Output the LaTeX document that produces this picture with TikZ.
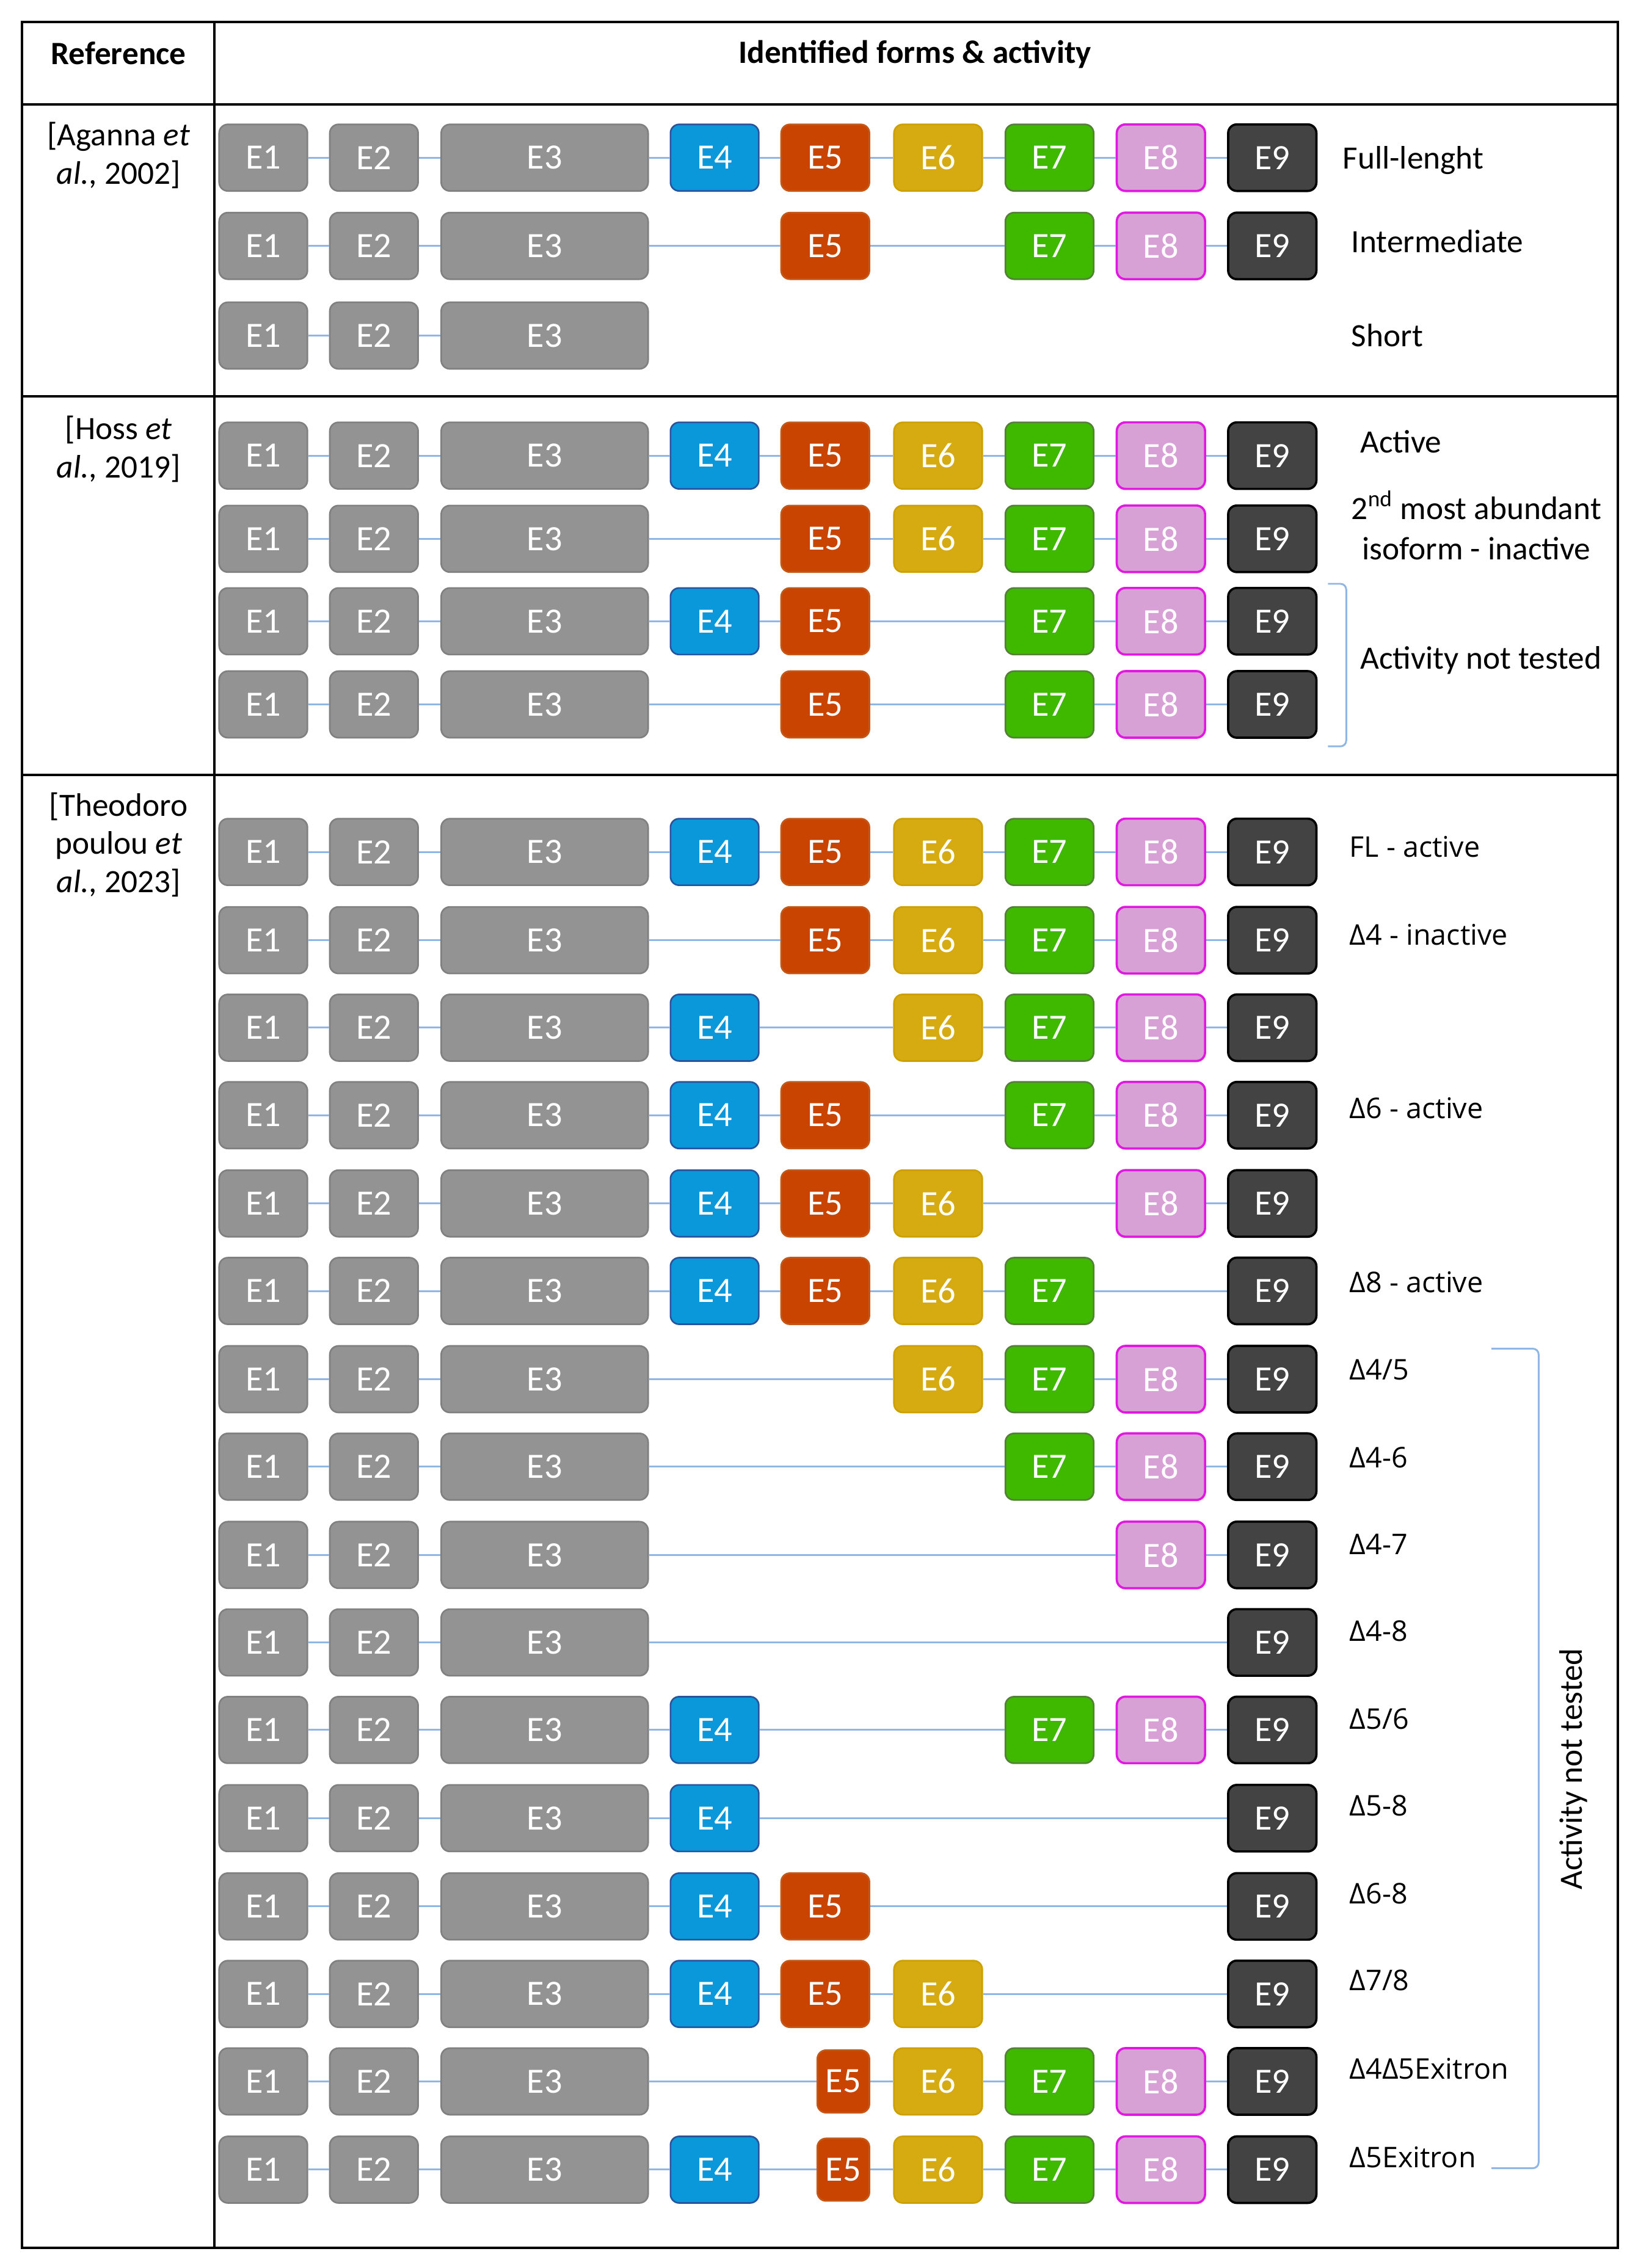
\documentclass[tikz,border=0pt]{standalone}
\usepackage{fontspec}
\setmainfont{Carlito}
\newfontfamily\isofont{Open Sans}

\definecolor{exgray}{RGB}{147,147,147}
\definecolor{exgrayline}{RGB}{128,128,128}
\definecolor{exblue}{RGB}{11,152,219}
\definecolor{exblueline}{RGB}{40,84,158}
\definecolor{exred}{RGB}{200,68,0}
\definecolor{exredline}{RGB}{196,88,24}
\definecolor{exgold}{RGB}{214,171,18}
\definecolor{exgoldline}{RGB}{204,160,0}
\definecolor{exgreen}{RGB}{62,185,0}
\definecolor{exgreenline}{RGB}{84,128,56}
\definecolor{expink}{RGB}{216,161,214}
\definecolor{expinkline}{RGB}{224,24,224}
\definecolor{exdark}{RGB}{67,67,67}
\definecolor{intronblue}{RGB}{143,182,228}

\tikzset{
  gridline/.style={line width=1.2pt, black},
  exon/.style={rounded corners=0.15cm, minimum width=1.525cm, minimum height=1.15cm,
    inner sep=0pt, text=white, font=\fontsize{17.5}{19}\selectfont, line width=0.8pt},
  ex1/.style={exon, fill=exgray, draw=exgrayline},
  ex2/.style={ex1},
  ex3/.style={ex1, minimum width=3.575cm},
  ex4/.style={exon, fill=exblue, draw=exblueline},
  ex5/.style={exon, fill=exred, draw=exredline},
  ex6/.style={exon, fill=exgold, draw=exgoldline},
  ex7/.style={exon, fill=exgreen, draw=exgreenline},
  ex8/.style={exon, fill=expink, draw=expinkline, line width=1.1pt},
  ex9/.style={exon, fill=exdark, draw=black, line width=1.1pt},
  ex10/.style={ex5, minimum width=0.9cm, minimum height=1.08cm},
  intron/.style={draw=intronblue, line width=0.9pt},
  lab/.style={font=\fontsize{16}{19.8}\selectfont, inner sep=0pt, text height=0.75em, text depth=0.25em},
  reflab/.style={font=\fontsize{16}{18.8}\selectfont, align=center, inner sep=0pt},
  isolab/.style={font=\isofont\fontsize{14}{16}\selectfont, anchor=west, inner sep=0pt,
    text height=0.75em, text depth=0.25em},
  bracket/.style={draw=intronblue, line width=0.9pt, rounded corners=1mm}
}

\begin{document}
\begin{tikzpicture}[x=0.025cm, y=-0.025cm]
\useasboundingbox (0,0) rectangle (1132,1568);

% table
\draw[gridline] (15.2,15) rectangle (1118.5,1554);
\draw[gridline] (148,15) -- (148,1554);
\foreach \h in {72,274,535.6}
  \draw[gridline] (15.2,\h) -- (1118.5,\h);

\node[font=\fontsize{16}{18}\selectfont\bfseries] (hdrref) at (82,37) {Reference};
\node[font=\fontsize{16}{18}\selectfont\bfseries] (hdrforms) at (632.5,37.5) {Identified forms \& activity};

\node[reflab] (refA) at (82,107.3) {[Aganna \textit{et}\\\textit{al.}, 2002]};
\node[reflab] (refH) at (82,310.4) {[Hoss \textit{et}\\\textit{al.}, 2019]};
\node[reflab] (refT) at (82,584) {[Theodoro\\poulou \textit{et}\\\textit{al.}, 2023]};

% isoforms: row y / exons (10 = short E5)
\foreach \y/\exons [count=\r] in {
  109/{1,2,3,4,5,6,7,8,9},
  170/{1,2,3,5,7,8,9},
  232/{1,2,3},
  315/{1,2,3,4,5,6,7,8,9},
  372.5/{1,2,3,5,6,7,8,9},
  429.5/{1,2,3,4,5,7,8,9},
  487/{1,2,3,5,7,8,9},
  589/{1,2,3,4,5,6,7,8,9},
  650/{1,2,3,5,6,7,8,9},
  710.5/{1,2,3,4,6,7,8,9},
  771/{1,2,3,4,5,7,8,9},
  832/{1,2,3,4,5,6,8,9},
  892.5/{1,2,3,4,5,6,7,9},
  953.5/{1,2,3,6,7,8,9},
  1014/{1,2,3,7,8,9},
  1075/{1,2,3,8,9},
  1135.5/{1,2,3,9},
  1196/{1,2,3,4,7,8,9},
  1257/{1,2,3,4,9},
  1318/{1,2,3,4,5,9},
  1378.5/{1,2,3,4,5,6,9},
  1439/{1,2,3,10,6,7,8,9},
  1500/{1,2,3,4,10,6,7,8,9}}{
  \foreach \e [remember=\e as \p (initially 0)] in \exons {
    \pgfmathsetmacro{\xx}{{0,182,258.5,376.5,494,570.5,648.5,725.5,802.5,879.5,583}[\e]}
    \node[ex\e] (r\r-\e) at (\xx,\y) {E\ifnum\e=10 5\else\e\fi};
    \ifnum\p>0 \draw[intron] (r\r-\p) -- (r\r-\e); \fi
  }
}

% activity labels
\node[lab, anchor=west] (labFL) at (928,113) {Full-lenght};
\node[lab, anchor=west] (labInt) at (934,171) {Intermediate};
\node[lab, anchor=west] (labShort) at (934,236) {Short};
\node[lab, anchor=west] (labAct) at (940,309.5) {Active};
\node[reflab, font=\fontsize{16}{19.8}\selectfont] (labSec) at (1020.6,363) {2\textsuperscript{nd} most abundant\\isoform - inactive};
\node[lab, anchor=west] (labNT) at (940,459) {Activity not tested};
\draw[bracket] (918,403.6) -- (930.6,403.6) -- (930.6,516) -- (918,516);

\foreach \y/\txt [count=\i] in {586/FL - active, 646.6/Δ4 - inactive, 766.8/Δ6 - active,
  887/Δ8 - active, 947.5/{Δ4/5}, 1008/Δ4-6, 1068/Δ4-7, 1128/Δ4-8, 1189/{Δ5/6},
  1249/Δ5-8, 1309.5/Δ6-8, 1369.5/{Δ7/8}, 1431/Δ4Δ5Exitron, 1492/Δ5Exitron}
  \node[isolab] (iso\i) at (932.7,\y+3) {\txt};

\draw[bracket] (1031,932.4) -- (1063.6,932.4) -- (1063.6,1499) -- (1031,1499);
\node[lab, rotate=90] (labNT2) at (1090,1223) {Activity not tested};
\end{tikzpicture}
\end{document}
